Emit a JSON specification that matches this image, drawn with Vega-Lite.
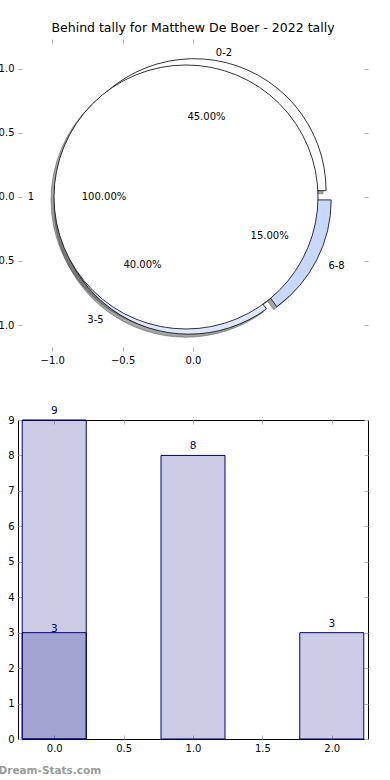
{
 "$schema": "https://vega.github.io/schema/vega-lite/v6.json",
 "background": "white",
 "padding": {"left": -11, "top": 22, "right": 0, "bottom": 0},
 "bounds": "flush",
 "spacing": 69,
 "config": {
  "font": "DejaVu Sans",
  "view": {"stroke": null},
  "axis": {"domain": false, "grid": false, "tickColor": "#b5b5b5", "tickSize": -4, "labelPadding": 8, "labelFontSize": 10, "labelColor": "black", "labelFont": "DejaVu Sans"},
  "title": {"font": "DejaVu Sans", "fontSize": 12.5, "fontWeight": "normal", "color": "black"}
 },
 "vconcat": [
  {
   "width": 350, "height": 312,
   "title": {"text": "Behind tally for Matthew De Boer - 2022 tally", "anchor": "middle", "offset": 4},
   "data": {"values": [
    {"label": "0-2", "count": 9, "share": 0.45},
    {"label": "3-5", "count": 8, "share": 0.40},
    {"label": "6-8", "count": 3, "share": 0.15}
   ]},
   "transform": [{"stack": "count", "groupby": [], "sort": [{"field": "label", "order": "descending"}], "offset": "normalize", "as": ["t0", "t1"]}],
   "layer": [
    {"transform": [{"filter": "datum.label == '0-2'"}],
     "mark": {"type": "arc", "radius": 132, "fill": "#4d4d4d", "fillOpacity": 0.5, "stroke": "#4d4d4d", "strokeOpacity": 0.5, "xOffset": -1.9, "yOffset": -3.3},
     "encoding": {
      "x": {"datum": 0, "type": "quantitative", "scale": {"domain": [-1.243, 1.243], "nice": false, "zero": false}, "axis": {"orient": "bottom", "values": [-1, -0.5, 0], "format": ".1f", "title": null}},
      "y": {"datum": 0, "type": "quantitative", "scale": {"domain": [-1.203, 1.234], "nice": false, "zero": false}, "axis": {"orient": "left", "values": [-1, -0.5, 0, 0.5, 1], "format": ".1f", "title": null}},
      "theta": {"field": "t0", "type": "quantitative", "scale": {"domain": [0, 1], "range": [1.5707963, 7.854]}},
      "theta2": {"field": "t1"}
     }},
    {"transform": [{"filter": "datum.label == '3-5'"}],
     "mark": {"type": "arc", "radius": 132, "fill": "#4d4d4d", "fillOpacity": 0.5, "stroke": "#4d4d4d", "strokeOpacity": 0.5, "xOffset": -7.1, "yOffset": 8.2},
     "encoding": {
      "x": {"datum": 0, "type": "quantitative", "scale": {"domain": [-1.243, 1.243], "nice": false, "zero": false}, "axis": {"orient": "top", "values": [-1, -0.5, 0], "labels": false, "title": null}},
      "y": {"datum": 0, "type": "quantitative", "scale": {"domain": [-1.203, 1.234], "nice": false, "zero": false}, "axis": {"orient": "right", "values": [-1, -0.5, 0, 0.5, 1], "labels": false, "title": null}},
      "theta": {"field": "t0", "type": "quantitative", "scale": {"domain": [0, 1], "range": [1.5707963, 7.854]}},
      "theta2": {"field": "t1"}
     }},
    {"transform": [{"filter": "datum.label == '6-8'"}],
     "mark": {"type": "arc", "radius": 132, "fill": "#4d4d4d", "fillOpacity": 0.5, "stroke": "#4d4d4d", "strokeOpacity": 0.5, "xOffset": 3.2, "yOffset": 5.9},
     "encoding": {
      "x": {"datum": 0, "type": "quantitative", "axis": null},
      "y": {"datum": 0, "type": "quantitative", "axis": null},
      "theta": {"field": "t0", "type": "quantitative", "scale": {"domain": [0, 1], "range": [1.5707963, 7.854]}},
      "theta2": {"field": "t1"}
     }},
    {"data": {"values": [{"label": "1", "share": 1}]},
     "mark": {"type": "arc", "radius": 132, "fill": "#4d4d4d", "fillOpacity": 0.5, "stroke": "#4d4d4d", "strokeOpacity": 0.5, "xOffset": -10, "yOffset": 3},
     "encoding": {
      "x": {"datum": 0, "type": "quantitative", "axis": null},
      "y": {"datum": 0, "type": "quantitative", "axis": null},
      "theta": {"datum": 0, "type": "quantitative", "scale": {"domain": [0, 1], "range": [1.5707963, 7.854]}},
      "theta2": {"datum": 1}
     }},
    {"transform": [{"filter": "datum.label == '0-2'"}],
     "mark": {"type": "arc", "radius": 132, "fill": "#ffffff", "stroke": "black", "strokeWidth": 0.8, "xOffset": 1.1, "yOffset": -6.3},
     "encoding": {
      "x": {"datum": 0, "type": "quantitative", "axis": null},
      "y": {"datum": 0, "type": "quantitative", "axis": null},
      "theta": {"field": "t0", "type": "quantitative", "scale": {"domain": [0, 1], "range": [1.5707963, 7.854]}},
      "theta2": {"field": "t1"}
     }},
    {"transform": [{"filter": "datum.label == '3-5'"}],
     "mark": {"type": "arc", "radius": 132, "fill": "#dfe7ff", "stroke": "black", "strokeWidth": 0.8, "xOffset": -4.1, "yOffset": 5.2},
     "encoding": {
      "x": {"datum": 0, "type": "quantitative", "axis": null},
      "y": {"datum": 0, "type": "quantitative", "axis": null},
      "theta": {"field": "t0", "type": "quantitative", "scale": {"domain": [0, 1], "range": [1.5707963, 7.854]}},
      "theta2": {"field": "t1"}
     }},
    {"transform": [{"filter": "datum.label == '6-8'"}],
     "mark": {"type": "arc", "radius": 132, "fill": "#c6d9fd", "stroke": "black", "strokeWidth": 0.8, "xOffset": 6.2, "yOffset": 2.9},
     "encoding": {
      "x": {"datum": 0, "type": "quantitative", "axis": null},
      "y": {"datum": 0, "type": "quantitative", "axis": null},
      "theta": {"field": "t0", "type": "quantitative", "scale": {"domain": [0, 1], "range": [1.5707963, 7.854]}},
      "theta2": {"field": "t1"}
     }},
    {"data": {"values": [{"label": "1", "share": 1}]},
     "mark": {"type": "arc", "radius": 132, "fill": "#ffffff", "stroke": "black", "strokeWidth": 0.8, "xOffset": -7, "yOffset": 0},
     "encoding": {
      "x": {"datum": 0, "type": "quantitative", "axis": null},
      "y": {"datum": 0, "type": "quantitative", "axis": null},
      "theta": {"datum": 0, "type": "quantitative", "scale": {"domain": [0, 1], "range": [1.5707963, 7.854]}},
      "theta2": {"datum": 1}
     }},
    {"mark": {"type": "text", "radius": 139, "align": "left", "fontSize": 10, "xOffset": 1.1, "yOffset": -4.3},
     "encoding": {
      "theta": {"field": "count", "type": "quantitative", "stack": "normalize", "scale": {"domain": [0, 1], "range": [1.5707963, 7.854]}},
      "order": {"field": "label", "type": "ordinal", "sort": "descending"},
      "detail": {"field": "label", "type": "nominal"},
      "text": {"condition": {"test": "datum.label == '0-2'", "field": "label", "type": "nominal"}, "value": ""}
     }},
    {"mark": {"type": "text", "radius": 145, "align": "right", "fontSize": 10, "xOffset": -4.1, "yOffset": 7.2},
     "encoding": {
      "theta": {"field": "count", "type": "quantitative", "stack": "normalize", "scale": {"domain": [0, 1], "range": [1.5707963, 7.854]}},
      "order": {"field": "label", "type": "ordinal", "sort": "descending"},
      "detail": {"field": "label", "type": "nominal"},
      "text": {"condition": {"test": "datum.label == '3-5'", "field": "label", "type": "nominal"}, "value": ""}
     }},
    {"mark": {"type": "text", "radius": 145, "align": "left", "fontSize": 10, "xOffset": 6.2, "yOffset": 4.9},
     "encoding": {
      "theta": {"field": "count", "type": "quantitative", "stack": "normalize", "scale": {"domain": [0, 1], "range": [1.5707963, 7.854]}},
      "order": {"field": "label", "type": "ordinal", "sort": "descending"},
      "detail": {"field": "label", "type": "nominal"},
      "text": {"condition": {"test": "datum.label == '6-8'", "field": "label", "type": "nominal"}, "value": ""}
     }},
    {"mark": {"type": "text", "radius": 79, "align": "center", "fontSize": 10, "xOffset": 1.1, "yOffset": 0},
     "encoding": {
      "theta": {"field": "count", "type": "quantitative", "stack": "normalize", "scale": {"domain": [0, 1], "range": [1.5707963, 7.854]}},
      "order": {"field": "label", "type": "ordinal", "sort": "descending"},
      "detail": {"field": "label", "type": "nominal"},
      "text": {"condition": {"test": "datum.label == '0-2'", "field": "share", "type": "quantitative", "format": ".2%"}, "value": ""}
     }},
    {"mark": {"type": "text", "radius": 79, "align": "center", "fontSize": 10, "xOffset": -4.1, "yOffset": 6},
     "encoding": {
      "theta": {"field": "count", "type": "quantitative", "stack": "normalize", "scale": {"domain": [0, 1], "range": [1.5707963, 7.854]}},
      "order": {"field": "label", "type": "ordinal", "sort": "descending"},
      "detail": {"field": "label", "type": "nominal"},
      "text": {"condition": {"test": "datum.label == '3-5'", "field": "share", "type": "quantitative", "format": ".2%"}, "value": ""}
     }},
    {"mark": {"type": "text", "radius": 79, "align": "center", "fontSize": 10, "xOffset": 6.2, "yOffset": 4.9},
     "encoding": {
      "theta": {"field": "count", "type": "quantitative", "stack": "normalize", "scale": {"domain": [0, 1], "range": [1.5707963, 7.854]}},
      "order": {"field": "label", "type": "ordinal", "sort": "descending"},
      "detail": {"field": "label", "type": "nominal"},
      "text": {"condition": {"test": "datum.label == '6-8'", "field": "share", "type": "quantitative", "format": ".2%"}, "value": ""}
     }},
    {"data": {"values": [{"label": "1", "share": 1}]},
     "mark": {"type": "text", "radius": 152, "align": "right", "fontSize": 10, "xOffset": -7, "yOffset": 2},
     "encoding": {
      "theta": {"datum": 0.5, "type": "quantitative", "scale": {"domain": [0, 1], "range": [1.5707963, 7.854]}},
      "text": {"field": "label", "type": "nominal"}
     }},
    {"data": {"values": [{"label": "1", "share": 1}]},
     "mark": {"type": "text", "radius": 82, "align": "center", "fontSize": 10, "xOffset": -7, "yOffset": 2},
     "encoding": {
      "theta": {"datum": 0.5, "type": "quantitative", "scale": {"domain": [0, 1], "range": [1.5707963, 7.854]}},
      "text": {"field": "share", "type": "quantitative", "format": ".2%"}
     }}
   ],
   "resolve": {"axis": {"x": "independent", "y": "independent"}}
  },
  {
   "width": 350, "height": 319,
   "view": {"stroke": "black", "strokeWidth": 1},
   "data": {"values": [
    {"pos": 0, "n": 9, "grp": "a"},
    {"pos": 1, "n": 8, "grp": "a"},
    {"pos": 2, "n": 3, "grp": "a"},
    {"pos": 0, "n": 3, "grp": "b"}
   ]},
   "layer": [
    {"mark": {"type": "bar", "width": 64, "fill": "#000080", "fillOpacity": 0.2, "stroke": "#000080", "strokeWidth": 1},
     "encoding": {
      "x": {"field": "pos", "type": "quantitative", "scale": {"domain": [-0.225, 2.225], "nice": false, "zero": false},
            "axis": {"orient": "bottom", "values": [0, 0.5, 1, 1.5, 2], "format": ".1f", "title": "Dream-Stats.com", "titleColor": "#9a9a9a", "titleFontWeight": "bold", "titleFontSize": 10.5, "titleAnchor": "start", "titleAlign": "left", "titleX": -20, "titleY": 31, "titleBaseline": "middle"}},
      "y": {"field": "n", "type": "quantitative", "stack": null, "scale": {"domain": [0, 9], "nice": false}, "axis": {"orient": "left", "values": [0, 1, 2, 3, 4, 5, 6, 7, 8, 9], "format": "d", "title": null}}
     }},
    {"transform": [{"filter": "datum.grp == 'a'"}],
     "mark": {"type": "text", "dy": -9, "color": "#000080", "fontSize": 10.5},
     "encoding": {
      "x": {"field": "pos", "type": "quantitative", "scale": {"domain": [-0.225, 2.225], "nice": false, "zero": false}, "axis": {"orient": "top", "values": [0, 0.5, 1, 1.5, 2], "labels": false, "title": null}},
      "y": {"field": "n", "type": "quantitative", "stack": null, "scale": {"domain": [0, 9], "nice": false}, "axis": {"orient": "right", "values": [0, 1, 2, 3, 4, 5, 6, 7, 8, 9], "labels": false, "title": null}},
      "text": {"field": "n", "type": "quantitative"}
     }},
    {"transform": [{"filter": "datum.grp == 'b'"}],
     "mark": {"type": "text", "dy": -4, "color": "#000080", "fontSize": 10.5},
     "encoding": {
      "x": {"field": "pos", "type": "quantitative", "axis": null},
      "y": {"field": "n", "type": "quantitative", "stack": null, "axis": null},
      "text": {"field": "n", "type": "quantitative"}
     }}
   ],
   "resolve": {"axis": {"x": "independent", "y": "independent"}}
  }
 ]
}
